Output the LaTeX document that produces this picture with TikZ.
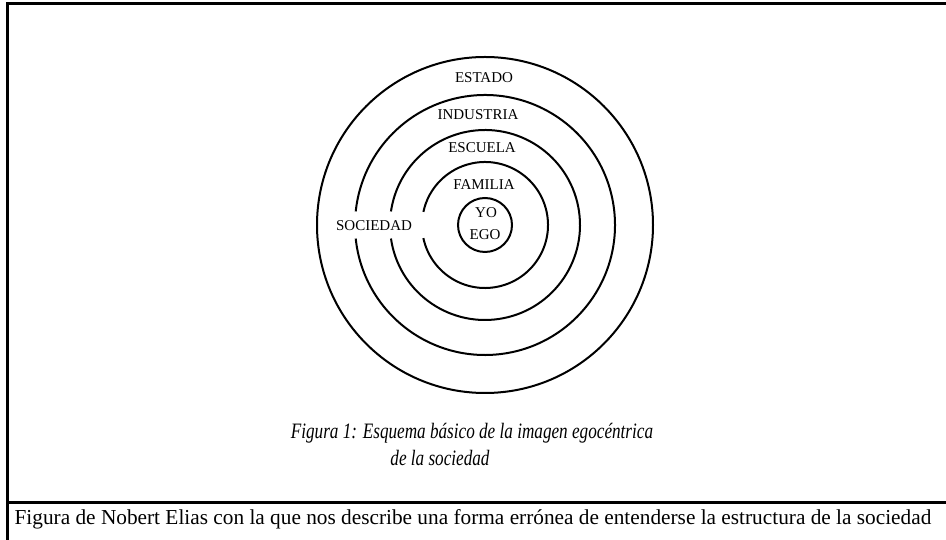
\documentclass[tikz,border=0pt]{standalone}
\usepackage{fontspec}
\setmainfont{Liberation Serif}
\usepackage{tikz}

\tikzset{
  ring/.style={line width=2pt},
  ringlabel/.style={inner sep=0pt, font=\fontsize{15}{17}\selectfont},
  titlelabel/.style={font=\fontsize{22}{26}\selectfont\itshape, xscale=0.78, transform shape},
  frameline/.style={line width=3pt}
}

\begin{document}
\begin{tikzpicture}[x=1pt,y=1pt]
\useasboundingbox (0,0) rectangle (946,540);

\coordinate (ego) at (485,315);

% frame and caption row
\draw[frameline] (7,0) -- (7,536) -- (946,536);
\draw[frameline] (7,37) -- (946,37);

% rings, the middle three broken where SOCIEDAD sits
\draw[ring] (ego) circle (27);
\draw[ring] (ego) circle (168);
\foreach \r/\g in {63/12,95/8.2,130/6}
  \draw[ring] (ego) ++(180+\g:\r) arc[start angle=180+\g, end angle=540-\g, radius=\r];

\node[ringlabel] (estado) at (484,462) {ESTADO};
\node[ringlabel] (industria) at (478,425) {INDUSTRIA};
\node[ringlabel] (escuela) at (482,392) {ESCUELA};
\node[ringlabel] (familia) at (484,355) {FAMILIA};
\node[ringlabel] (yo) at (486,327) {YO};
\node[ringlabel] (egolabel) at (485,305) {EGO};
\node[ringlabel] (sociedad) at (374,314) {SOCIEDAD};

\node[titlelabel] (titulo) at (472,107) {Figura 1: Esquema básico de la imagen egocéntrica};
\node[titlelabel] (titulob) at (440,82) {de la sociedad};

\node[font=\fontsize{21.3}{24}\selectfont] (pie) at (473,21) {Figura de Nobert Elias con la que nos describe una forma errónea de entenderse la estructura de la sociedad};
\end{tikzpicture}
\end{document}
